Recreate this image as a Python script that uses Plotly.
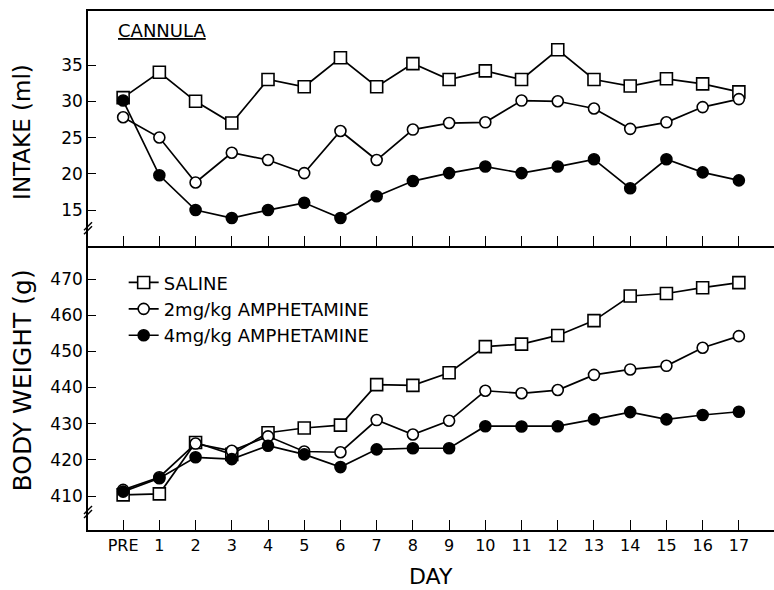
import plotly.graph_objects as go

days = ["PRE", "1", "2", "3", "4", "5", "6", "7", "8", "9", "10", "11", "12", "13", "14", "15", "16", "17"]

intake_saline = [30.5, 34, 30, 27, 33, 32, 36, 32, 35.2, 33, 34.2, 33, 37.1, 33, 32.1, 33.1, 32.4, 31.3]
intake_2mg = [27.8, 25, 18.8, 22.9, 21.9, 20.1, 25.9, 21.9, 26.1, 27, 27.1, 30.1, 30, 29, 26.2, 27.1, 29.2, 30.3]
intake_4mg = [30.1, 19.8, 15, 13.9, 15, 16, 13.9, 16.9, 19, 20.1, 21, 20.1, 21, 22, 18, 22, 20.2, 19.1]

weight_saline = [410.3, 410.6, 424.8, 421.5, 427.5, 428.8, 429.6, 440.8, 440.6, 444.1, 451.3, 452, 454.4, 458.5, 465.3, 466, 467.6, 469]
weight_2mg = [411.7, 415.2, 424.5, 422.5, 426.5, 422.3, 422.1, 431, 427, 430.8, 439.1, 438.4, 439.3, 443.5, 445, 446, 451, 454.2]
weight_4mg = [411.2, 414.9, 420.7, 420.2, 423.9, 421.5, 418, 422.9, 423.2, 423.2, 429.3, 429.2, 429.3, 431.2, 433.2, 431.2, 432.4, 433.3]

series_names = ["SALINE", "2mg/kg AMPHETAMINE", "4mg/kg AMPHETAMINE"]
intake_ticks = [15, 20, 25, 30, 35]
weight_ticks = [410, 420, 430, 440, 450, 460, 470]

FONT = "DejaVu Sans"
styles = [
    dict(symbol="square", size=12, color="white"),
    dict(symbol="circle", size=11, color="white"),
    dict(symbol="circle", size=11, color="black"),
]

fig = go.Figure()
for name, vals, st in zip(series_names, [intake_saline, intake_2mg, intake_4mg], styles):
    fig.add_trace(go.Scatter(
        x=days, y=vals, mode="lines+markers", name=name, showlegend=False,
        line=dict(color="black", width=1.7),
        marker=dict(symbol=st["symbol"], size=st["size"], color=st["color"],
                    line=dict(color="black", width=1.6)),
        xaxis="x2", yaxis="y2"))
for name, vals, st in zip(series_names, [weight_saline, weight_2mg, weight_4mg], styles):
    fig.add_trace(go.Scatter(
        x=days, y=vals, mode="lines+markers", name=name, showlegend=True,
        line=dict(color="black", width=1.7),
        marker=dict(symbol=st["symbol"], size=st["size"], color=st["color"],
                    line=dict(color="black", width=1.6)),
        xaxis="x", yaxis="y"))

split = 0.547
xcommon = dict(type="category", categoryorder="array", categoryarray=days,
               range=[-0.97, 17.97], showgrid=False, zeroline=False,
               showline=True, linecolor="black", linewidth=1.6,
               ticks="inside", ticklen=10, tickwidth=1.4, tickcolor="black")
ycommon = dict(showgrid=False, zeroline=False, showline=True, linecolor="black",
               linewidth=1.6, ticks="inside", ticklen=8, tickwidth=1.4,
               tickcolor="black", tickfont=dict(family=FONT, size=17, color="black"))

fig.update_layout(
    width=774, height=590,
    margin=dict(l=88, r=0, t=11, b=60),
    paper_bgcolor="white", plot_bgcolor="white",
    font=dict(family=FONT, color="black"),
    xaxis=dict(**xcommon, domain=[0, 1], anchor="y", showticklabels=True,
               tickfont=dict(family=FONT, size=16, color="black")),
    yaxis=dict(**ycommon, domain=[0, split], range=[400.6, 479.1],
               tickvals=weight_ticks, anchor="x"),
    xaxis2=dict(**xcommon, domain=[0, 1], anchor="y2", showticklabels=False,
                mirror=True),
    yaxis2=dict(**ycommon, domain=[split, 1], range=[10.03, 42.45],
                tickvals=intake_ticks, anchor="x2"),
    legend=dict(x=0.052, y=0.512, xanchor="left", yanchor="top",
                bgcolor="rgba(0,0,0,0)", borderwidth=0,
                font=dict(family=FONT, size=18, color="black"),
                itemwidth=30, tracegroupgap=0),
    showlegend=True,
)

# axis titles
fig.add_annotation(text="INTAKE (ml)", xref="paper", yref="paper",
                   x=-0.0955, y=0.768, textangle=-90, showarrow=False,
                   xanchor="center", yanchor="middle",
                   font=dict(family=FONT, size=23, color="black"))
fig.add_annotation(text="BODY WEIGHT (g)", xref="paper", yref="paper",
                   x=-0.0955, y=0.289, textangle=-90, showarrow=False,
                   xanchor="center", yanchor="middle",
                   font=dict(family=FONT, size=25, color="black"))
fig.add_annotation(text="DAY", xref="paper", yref="paper", x=0.5, y=-0.09,
                   showarrow=False, xanchor="center", yanchor="middle",
                   font=dict(family=FONT, size=22, color="black"))
fig.add_annotation(text="<u>CANNULA</u>", xref="paper", yref="paper",
                   x=(162 - 88) / 686, y=(530 - 30) / 519, showarrow=False,
                   xanchor="center", yanchor="middle",
                   font=dict(family=FONT, size=18, color="black"))

# axis break marks
for yref, yval in [("y2", 12.5), ("y", 405.6)]:
    for off in (-2, 2):
        fig.add_shape(type="line", xref="paper", yref=yref,
                      xsizemode="pixel", ysizemode="pixel",
                      xanchor=0, yanchor=yval,
                      x0=-4, x1=4, y0=off - 4, y1=off + 4,
                      line=dict(color="black", width=1.4))

fig.write_html("out.html")
